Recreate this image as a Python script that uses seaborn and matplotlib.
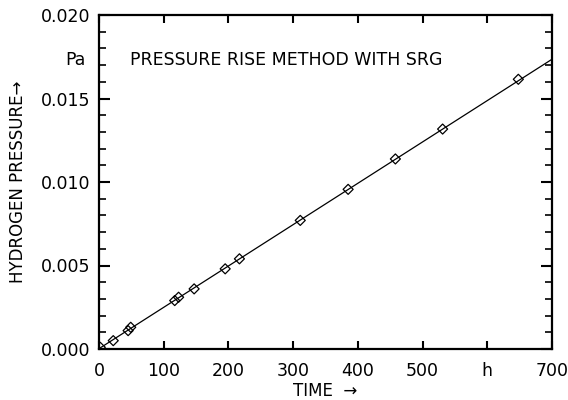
import numpy as np
import pandas as pd
import matplotlib
matplotlib.use("Agg")
import matplotlib.pyplot as plt
import seaborn as sns
from matplotlib.ticker import MultipleLocator

# ---- data ----
time_h = [2, 22, 45, 49, 117, 123, 147, 195, 217, 311, 385, 458, 531, 648]
pressure_pa = [0.0001, 0.0005, 0.0011, 0.0013, 0.0029, 0.0031, 0.0036,
               0.0048, 0.0054, 0.0077, 0.00956, 0.01138, 0.01317, 0.01615]
fit_t = [0, 700]
fit_p = [0.00002, 0.01735]

x_ticks = [0, 100, 200, 300, 400, 500, 600, 700]
x_labels = ["0", "100", "200", "300", "400", "500", "h", "700"]
y_ticks = [0.000, 0.005, 0.010, 0.015, 0.020]
y_labels = ["0.000", "0.005", "0.010", "0.015", "0.020"]

sns.set_style("ticks")
plt.rcParams["font.family"] = ["DejaVu Sans"]
plt.rcParams["text.color"] = "black"
plt.rcParams["axes.labelcolor"] = "black"

df = pd.DataFrame({"t": time_h, "p": pressure_pa})
fit = pd.DataFrame({"t": fit_t, "p": fit_p})

fig = plt.figure(figsize=(5.68, 4.0), dpi=100)
ax = fig.add_axes([0.1743, 0.1275, 0.7975, 0.835])

sns.lineplot(data=fit, x="t", y="p", color="black", linewidth=0.9, ax=ax)
sns.scatterplot(data=df, x="t", y="p", marker="D", s=26, facecolor="none",
                edgecolor="black", linewidth=0.9, ax=ax, zorder=3)

ax.set_xlim(0, 700)
ax.set_ylim(0, 0.020)
ax.set_xticks(x_ticks)
ax.set_xticklabels(x_labels)
ax.set_yticks(y_ticks)
ax.set_yticklabels(y_labels)
ax.yaxis.set_minor_locator(MultipleLocator(0.001))

ax.tick_params(axis="both", which="both", direction="in", top=True, right=True,
               labelsize=12.5, colors="black")
ax.tick_params(axis="x", which="major", length=6, width=1.5, pad=9)
ax.tick_params(axis="y", which="major", length=8, width=1.5, pad=6)
ax.tick_params(axis="y", which="minor", length=5, width=1.2)

for sp in ax.spines.values():
    sp.set_linewidth(1.6)
    sp.set_color("black")

ax.set_xlabel("TIME  \u2192", fontsize=12, labelpad=2)
ax.set_ylabel("HYDROGEN PRESSURE\u2192", fontsize=12, labelpad=10)

ax.text(-0.029, 0.0173, "Pa", transform=ax.get_yaxis_transform(),
        ha="right", va="center", fontsize=12.5)
ax.text(0.068, 0.0173, "PRESSURE RISE METHOD WITH SRG",
        transform=ax.get_yaxis_transform(), ha="left", va="center", fontsize=12.5)

fig.savefig("out.png", dpi=100)
